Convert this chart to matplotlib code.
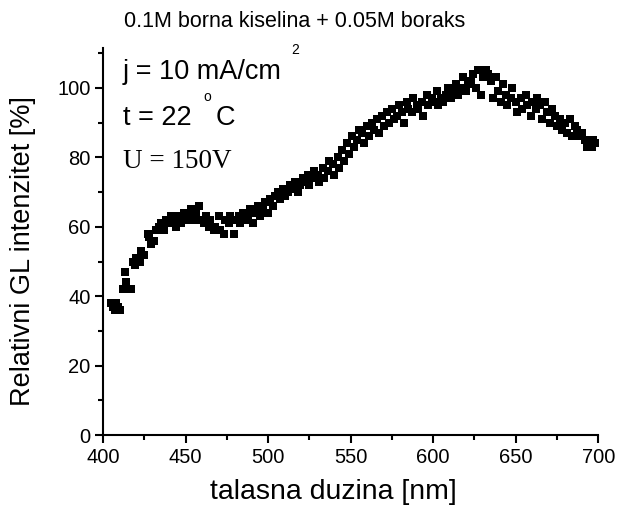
import numpy as np
import matplotlib.pyplot as plt
from matplotlib.ticker import MultipleLocator

plt.rcParams['font.family'] = ['Liberation Sans', 'DejaVu Sans']

# talasna duzina [nm] i relativni intenzitet [%], procitano sa slike
wl = [405, 406, 407, 408, 409, 410, 412, 413, 414, 415, 417, 418, 419, 420,
      422, 423, 425, 427, 428, 429, 431, 432, 434, 435, 437, 438, 440, 441,
      443, 444, 446, 447, 449, 450, 452, 453, 455, 456, 458, 459, 461, 462,
      464, 465, 467, 468, 470, 471, 473, 474, 476, 477, 479, 480, 482, 483,
      485, 486, 488, 489, 491, 492, 494, 495, 497, 498, 500, 501, 503, 504,
      506, 507, 509, 510, 512, 513, 515, 516, 518, 519, 521, 522, 524, 525,
      527, 528, 530, 531, 533, 534, 536, 537, 539, 540, 542, 543, 545, 546,
      548, 549, 551, 552, 554, 555, 557, 558, 560, 561, 563, 564, 566, 567,
      569, 570, 572, 573, 575, 576, 578, 579, 581, 582, 584, 585, 587, 588,
      590, 591, 593, 594, 596, 597, 599, 600, 602, 603, 605, 606, 608, 609,
      611, 612, 614, 615, 617, 618, 620, 621, 623, 624, 626, 627, 629, 630,
      632, 633, 635, 636, 638, 639, 641, 642, 644, 645, 647, 648, 650, 651,
      653, 654, 656, 657, 659, 660, 662, 663, 665, 666, 668, 669, 671, 672,
      674, 675, 677, 678, 680, 681, 683, 684, 686, 687, 689, 690, 692, 693,
      695, 696, 697, 698]
inten = [38, 37, 36, 38, 37, 36, 42, 47, 44, 42, 42, 50, 49, 51,
         50, 53, 52, 58, 57, 55, 56, 59, 60, 61, 59, 62, 61, 63,
         62, 60, 63, 61, 64, 62, 63, 65, 62, 64, 66, 62, 61, 63,
         60, 62, 59, 60, 63, 59, 58, 62, 61, 63, 58, 62, 63, 61,
         64, 62, 63, 65, 61, 64, 66, 63, 65, 67, 64, 68, 66, 69,
         70, 68, 71, 69, 70, 72, 71, 73, 70, 72, 74, 73, 75, 72,
         74, 76, 75, 73, 77, 74, 76, 79, 78, 75, 80, 77, 82, 79,
         84, 81, 86, 83, 85, 88, 87, 84, 89, 86, 90, 88, 91, 87,
         92, 89, 93, 90, 94, 91, 92, 95, 93, 90, 96, 94, 93, 97,
         95, 94, 96, 92, 98, 95, 97, 96, 99, 95, 97, 96, 98, 100,
         97, 99, 101, 98, 100, 103, 99, 101, 102, 104, 100, 105, 98, 103,
         105, 104, 102, 97, 103, 99, 96, 101, 98, 95, 97, 100, 96, 93,
         97, 94, 98, 95, 92, 96, 94, 97, 95, 91, 96, 93, 90, 94,
         92, 89, 91, 88, 90, 87, 91, 86, 89, 88, 86, 87, 85, 83,
         84, 83, 85, 84]

fig = plt.figure(figsize=(6.18, 5.15), dpi=100)
ax = fig.add_axes([0.167, 0.155, 0.801, 0.752])

ax.plot(wl, inten, 's', color='black', ms=6.3, mew=0)

ax.set_xlim(400, 700)
ax.set_ylim(0, 111.5)
ax.xaxis.set_major_locator(MultipleLocator(50))
ax.xaxis.set_minor_locator(MultipleLocator(25))
ax.yaxis.set_major_locator(MultipleLocator(20))
ax.yaxis.set_minor_locator(MultipleLocator(10))
ax.tick_params(which='major', direction='out', length=6, width=1.5,
               labelsize=14.5, pad=3)
ax.tick_params(which='minor', direction='out', length=3.6, width=1.5)

for s in ['top', 'right']:
    ax.spines[s].set_visible(False)
for s in ['left', 'bottom']:
    ax.spines[s].set_linewidth(1.5)

ax.set_xlabel('talasna duzina [nm]', fontsize=20.5)
ax.xaxis.set_label_coords(0.465, -0.112)
ax.set_ylabel('Relativni GL intenzitet [%]', fontsize=19.5)
ax.yaxis.set_label_coords(-0.135, 0.475)
fig.text(0.477, 0.958, '0.1M borna kiselina + 0.05M boraks', fontsize=15.5,
         ha='center', va='center')

ax.text(412, 104.6, 'j = 10 mA/cm', fontsize=19.5, va='center')
ax.text(514, 111, '2', fontsize=10, va='center')
ax.text(412, 91.4, 't = 22', fontsize=19.5, va='center')
ax.text(461, 97.5, 'o', fontsize=10, va='center')
ax.text(468, 91.4, 'C', fontsize=19.5, va='center')
ax.text(412, 78.7, 'U = 150V', fontsize=19.5, va='center', family='Liberation Serif')

fig.savefig('out.png')
